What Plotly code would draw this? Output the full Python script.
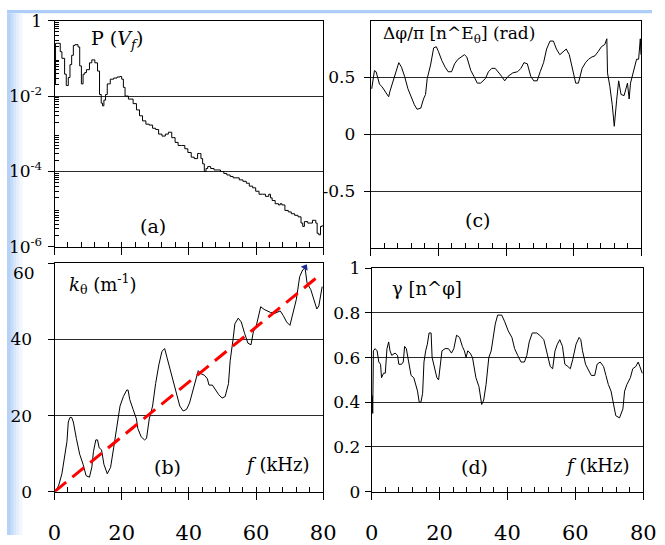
import plotly.graph_objects as go

W, H = 665, 545
SERIF = "DejaVu Serif"

# ---- (a) power spectrum P(V_f) ----
f_a = [0.0, 0.3, 1.0, 1.7, 2.2, 3.0, 3.5, 4.1, 4.6, 5.1, 5.6, 6.1, 7.0, 7.5, 8.0, 8.5, 9.0, 9.5,
       10.4, 11.1, 12.0, 12.8, 13.4, 13.9, 14.3, 14.7, 15.2, 15.7, 16.6, 17.6, 18.6, 19.5, 20.0,
       20.5, 21.0, 22.0, 23.4, 24.4, 25.3, 26.2, 27.2, 28.2, 29.2, 30.1, 31.0, 32.0, 33.0, 33.9,
       34.9, 35.9, 36.8, 37.8, 38.8, 39.7, 40.7, 41.6, 42.6, 43.1, 43.6, 44.1, 44.6, 45.1, 45.6,
       46.5, 47.5, 48.5, 49.4, 50.4, 51.3, 52.3, 53.2, 55.0, 56.1, 57.1, 58.0, 59.0, 59.9, 60.9,
       61.9, 62.8, 63.8, 64.3, 64.8, 65.7, 66.7, 67.2, 67.7, 68.6, 69.6, 70.5, 71.5, 72.5, 73.4,
       73.9, 74.4, 75.4, 76.8, 77.8, 78.2, 78.7, 79.2, 79.7]
p_a = [2.1e-2, 2.5e-1, 2.5e-1, 1.5e-1, 1.0e-1, 3.8e-2, 1.9e-2, 3.1e-2, 6.8e-2, 1.2e-1, 2.2e-1,
       2.3e-1, 2.0e-1, 6.3e-2, 2.1e-2, 3.8e-2, 4.2e-2, 5.0e-2, 7.6e-2, 9.1e-2, 7.6e-2, 4.6e-2,
       1.1e-2, 6.5e-3, 5.5e-3, 7.8e-3, 1.1e-2, 2.1e-2, 2.8e-2, 3.0e-2, 3.2e-2, 3.3e-2, 2.8e-2,
       1.7e-2, 1.0e-2, 8.3e-3, 6.3e-3, 4.3e-3, 3.0e-3, 2.2e-3, 1.8e-3, 1.7e-3, 1.4e-3, 1.3e-3,
       9.8e-4, 8.7e-4, 9.8e-4, 1.1e-3, 7.9e-4, 5.9e-4, 4.9e-4, 4.9e-4, 4.0e-4, 3.2e-4, 2.4e-4,
       2.2e-4, 3.0e-4, 3.0e-4, 2.2e-4, 1.6e-4, 1.0e-4, 1.2e-4, 1.35e-4, 1.2e-4, 1.1e-4, 1.1e-4,
       1.0e-4, 8.9e-5, 8.1e-5, 7.4e-5, 6.8e-5, 6.0e-5, 5.5e-5, 4.9e-5, 4.1e-5, 3.7e-5, 3.0e-5,
       2.5e-5, 2.5e-5, 2.2e-5, 2.5e-5, 2.0e-5, 1.7e-5, 1.4e-5, 1.3e-5, 1.4e-5, 1.3e-5, 9.3e-6,
       8.5e-6, 7.6e-6, 6.9e-6, 6.3e-6, 4.3e-6, 3.5e-6, 4.7e-6, 4.3e-6, 5.1e-6, 4.3e-6, 2.3e-6,
       2.1e-6, 3.5e-6, 3.8e-6]

# ---- (b) poloidal wavenumber k_theta ----
f_b = [0.3, 1.25, 2.2, 3.2, 3.7, 4.1, 4.6, 5.1, 5.6, 6.5, 7.5, 8.5, 9.4, 10.4, 11.1, 11.6, 12.3,
       12.8, 13.3, 14.0, 14.7, 15.7, 16.7, 17.6, 18.6, 19.5, 20.5, 21.5, 21.9, 22.4, 23.4, 24.4,
       24.8, 25.8, 26.8, 27.4, 28.2, 29.2, 30.1, 31.1, 32.0, 32.8, 33.5, 34.5, 35.4, 36.4, 37.3,
       38.3, 39.3, 40.2, 41.2, 42.2, 42.8, 43.6, 44.6, 45.5, 46.0, 47.0, 47.9, 48.9, 49.9, 50.8,
       51.8, 52.3, 53.2, 53.7, 54.7, 55.6, 56.6, 57.6, 58.5, 59.2, 60.0, 60.7, 61.4, 62.4, 63.3,
       64.3, 65.7, 67.2, 68.1, 69.1, 70.1, 71.0, 72.0, 73.0, 73.9, 74.6, 75.2, 76.3, 77.3, 78.1,
       78.7, 79.7]
k_b = [0.0, 1.7, 4.7, 9.8, 13.2, 18.3, 19.5, 19.5, 18.3, 14.0, 9.8, 7.2, 4.2, 3.8, 6.4, 10.6,
       13.6, 13.6, 11.5, 11.0, 7.2, 4.7, 6.4, 11.5, 17.4, 22.5, 25.0, 26.7, 26.7, 24.2, 21.6,
       19.1, 16.6, 14.4, 13.6, 14.0, 19.1, 22.5, 28.4, 33.5, 36.9, 37.6, 35.2, 31.8, 28.4, 25.0,
       22.5, 21.2, 21.6, 23.3, 26.7, 30.1, 31.8, 31.0, 30.6, 29.7, 28.0, 28.0, 26.7, 25.5, 24.6,
       25.0, 28.4, 34.4, 40.3, 44.1, 45.6, 44.6, 41.6, 39.0, 38.6, 42.0, 43.3, 45.8, 48.6, 47.9,
       47.5, 47.1, 46.9, 47.5, 46.3, 44.6, 43.7, 46.7, 50.5, 56.5, 58.3, 58.8, 54.8, 53.1, 50.5,
       48.0, 48.8, 53.9]
# linear fit k = 0.72 f
f_fit = [0.0, 78.0]
k_fit = [0.0, 56.2]
# small arrow heads left on the panel
f_blue, k_blue = [74.6], [59.0]
f_blk, k_blk = [80.6], [54.3]

# ---- (c) cross phase dphi/pi ----
f_c = [0.3, 0.7, 1.1, 1.6, 2.1, 2.6, 3.3, 4.3, 5.3, 5.7, 6.7, 7.6, 8.3, 9.1, 10.0, 11.0, 11.9,
       12.9, 13.7, 14.8, 15.6, 16.2, 16.7, 17.7, 18.6, 19.4, 20.0, 21.0, 22.0, 22.9, 23.9, 24.8,
       25.8, 26.7, 27.7, 28.4, 29.6, 30.5, 31.5, 32.5, 33.9, 34.8, 35.8, 36.8, 37.7, 38.7, 39.6,
       40.6, 42.0, 43.4, 44.4, 45.3, 46.3, 47.3, 48.2, 49.2, 50.1, 51.1, 52.0, 53.0, 54.0, 54.9,
       55.9, 56.8, 57.8, 58.7, 59.7, 60.6, 61.4, 62.5, 63.5, 64.4, 65.4, 66.3, 67.3, 68.2, 69.2,
       69.8, 70.0, 70.7, 71.4, 72.0, 72.7, 73.3, 74.0, 74.9, 75.9, 76.4, 76.8, 77.8, 78.6, 79.2,
       79.7, 79.9]
ph_c = [0.40, 0.49, 0.56, 0.55, 0.49, 0.44, 0.42, 0.38, 0.33, 0.38, 0.47, 0.56, 0.63, 0.59,
        0.51, 0.40, 0.33, 0.26, 0.22, 0.23, 0.31, 0.35, 0.49, 0.61, 0.76, 0.77, 0.73, 0.65, 0.59,
        0.55, 0.55, 0.62, 0.66, 0.68, 0.70, 0.68, 0.56, 0.51, 0.45, 0.45, 0.49, 0.55, 0.58, 0.58,
        0.55, 0.51, 0.47, 0.51, 0.54, 0.55, 0.58, 0.63, 0.62, 0.51, 0.47, 0.47, 0.55, 0.63, 0.75,
        0.82, 0.82, 0.75, 0.70, 0.72, 0.75, 0.70, 0.58, 0.45, 0.45, 0.58, 0.63, 0.66, 0.68, 0.69,
        0.73, 0.77, 0.79, 0.84, 0.54, 0.42, 0.26, 0.07, 0.30, 0.47, 0.35, 0.34, 0.45, 0.31, 0.45,
        0.58, 0.66, 0.66, 0.84, 0.70]

# ---- (d) coherence gamma ----
f_d = [0.2, 0.3, 0.5, 1.0, 1.6, 2.1, 2.6, 2.9, 3.5, 4.0, 4.5, 5.0, 5.4, 5.9, 6.9, 7.6, 8.0, 8.8,
       9.3, 9.7, 10.2, 10.7, 11.1, 11.6, 12.4, 13.0, 13.5, 14.0, 14.5, 15.0, 15.4, 15.9, 16.4,
       16.9, 17.5, 17.8, 18.5, 19.2, 19.7, 20.2, 20.7, 21.6, 22.6, 23.5, 24.2, 25.0, 25.9, 26.7,
       27.3, 27.8, 28.3, 29.0, 29.7, 30.7, 31.6, 32.4, 33.0, 33.7, 34.5, 35.2, 35.9, 36.4, 37.1,
       38.3, 39.2, 40.2, 41.3, 42.1, 43.0, 44.0, 45.0, 45.7, 46.4, 47.3, 48.6, 49.5, 50.7, 51.6,
       52.6, 53.3, 54.0, 54.7, 55.4, 56.2, 56.9, 57.8, 58.5, 59.2, 60.2, 61.1, 61.6, 62.1, 63.0,
       64.0, 64.7, 65.7, 66.4, 67.3, 68.3, 69.0, 69.7, 70.5, 71.1, 71.9, 73.0, 74.0, 74.5, 75.2,
       76.2, 76.9, 77.8, 78.5, 79.0, 79.7]
g_d = [0.43, 0.35, 0.63, 0.64, 0.63, 0.58, 0.57, 0.51, 0.53, 0.53, 0.64, 0.67, 0.63, 0.61,
       0.62, 0.61, 0.57, 0.57, 0.58, 0.65, 0.64, 0.60, 0.56, 0.52, 0.51, 0.48, 0.45, 0.40, 0.40,
       0.44, 0.58, 0.63, 0.66, 0.71, 0.71, 0.60, 0.55, 0.51, 0.50, 0.57, 0.63, 0.64, 0.64, 0.62,
       0.64, 0.70, 0.69, 0.65, 0.63, 0.60, 0.63, 0.62, 0.60, 0.51, 0.47, 0.39, 0.41, 0.48, 0.60,
       0.63, 0.70, 0.75, 0.79, 0.79, 0.76, 0.72, 0.69, 0.64, 0.61, 0.58, 0.58, 0.61, 0.67, 0.71,
       0.71, 0.70, 0.68, 0.62, 0.56, 0.55, 0.63, 0.66, 0.68, 0.65, 0.57, 0.56, 0.55, 0.59, 0.66,
       0.69, 0.68, 0.63, 0.57, 0.54, 0.52, 0.52, 0.57, 0.58, 0.56, 0.52, 0.48, 0.45, 0.40, 0.34,
       0.33, 0.37, 0.45, 0.48, 0.51, 0.55, 0.56, 0.58, 0.56, 0.53]

# tick labels
a_tickvals = [1e-6, 1e-4, 1e-2, 1]
a_ticktext = ["10<sup>-6</sup>", "10<sup>-4</sup>", "10<sup>-2</sup>", "1"]
b_tickvals = [0, 20, 40, 60]
b_ticktext = ["0", "20", "40", ""]   # the top label is set a little lower, below
c_tickvals = [-0.5, 0, 0.5]
c_ticktext = ["-0.5", "0", "0.5"]
f_ticks = [0, 20, 40, 60, 80]


def px_x(x):
    return x / W


def px_y(y):
    return 1 - y / H


LINE = dict(color="black", width=1)

fig = go.Figure()
fig.add_trace(go.Scatter(x=f_a, y=p_a, mode="lines", line=dict(color="black", width=1, shape="hv"),
                         xaxis="x", yaxis="y"))
fig.add_trace(go.Scatter(x=f_c, y=ph_c, mode="lines", line=LINE, xaxis="x2", yaxis="y2"))
fig.add_trace(go.Scatter(x=f_b, y=k_b, mode="lines", line=LINE, xaxis="x3", yaxis="y3"))
fig.add_trace(go.Scatter(x=f_fit, y=k_fit, mode="lines",
                         line=dict(color="#ff0000", width=3, dash="15px,8px"),
                         xaxis="x3", yaxis="y3"))
fig.add_trace(go.Scatter(x=f_blue, y=k_blue, mode="markers", cliponaxis=False,
                         marker=dict(symbol="triangle-up", size=7, color="#1a2a9a", angle=30),
                         xaxis="x3", yaxis="y3"))
fig.add_trace(go.Scatter(x=f_blk, y=k_blk, mode="markers", cliponaxis=False,
                         marker=dict(symbol="triangle-up", size=5, color="black", angle=60),
                         xaxis="x3", yaxis="y3"))
fig.add_trace(go.Scatter(x=f_d, y=g_d, mode="lines", line=LINE, xaxis="x4", yaxis="y4"))

# panel frames in pixels: (left, right, top, bottom)
frames = {
    "a": (49, 326, 11, 246),
    "c": (375, 654, 11, 247),
    "b": (49, 326, 263, 500),
    "d": (376, 656, 268, 500),
}

tickfont_x = dict(family=SERIF, size=21, color="black")
tickfont_y = dict(family=SERIF, size=17, color="black")


def xaxis(frame, anchor, labels):
    l, r, t, b = frame
    return dict(domain=[px_x(l), px_x(r)], anchor=anchor, range=[0, 80],
                tickmode="array", tickvals=f_ticks, showticklabels=labels,
                ticks="outside", ticklen=7, tickcolor="black", tickwidth=1,
                minor=dict(ticks="inside", dtick=4, tick0=0, ticklen=5, tickcolor="black",
                           showgrid=False),
                showline=True, linecolor="black", linewidth=1.2, mirror=True,
                showgrid=False, zeroline=False, tickfont=tickfont_x,
                ticklabelstandoff=15)


def yaxis(frame, anchor, **kw):
    l, r, t, b = frame
    d = dict(domain=[px_y(b), px_y(t)], anchor=anchor,
             ticks="outside", ticklen=6, tickcolor="black", tickwidth=1,
             showline=True, linecolor="black", linewidth=1, mirror=True,
             showgrid=True, gridcolor="#2a2a2a", gridwidth=1, zeroline=False,
             tickfont=tickfont_y)
    d.update(kw)
    return d


minor_log = [m * 10 ** e for e in range(-6, 0) for m in range(2, 10)]

fig.update_layout(
    width=W, height=H, autosize=False,
    margin=dict(l=0, r=0, t=0, b=0),
    paper_bgcolor="white", plot_bgcolor="white",
    showlegend=False,
    font=dict(family=SERIF, color="black"),
    xaxis=xaxis(frames["a"], "y", False),
    yaxis=yaxis(frames["a"], "x", type="log", range=[-6, 0], tickmode="array",
                tickvals=a_tickvals, ticktext=a_ticktext, ticklabelstandoff=2,
                minor=dict(ticks="inside", tickvals=minor_log, ticklen=4, tickcolor="black",
                           showgrid=False)),
    xaxis2=xaxis(frames["c"], "y2", False),
    yaxis2=yaxis(frames["c"], "x2", range=[-1, 1], tickmode="array",
                 tickvals=c_tickvals, ticktext=c_ticktext, ticklabelstandoff=5),
    xaxis3=xaxis(frames["b"], "y3", True),
    yaxis3=yaxis(frames["b"], "x3", range=[0, 60], tickmode="array",
                 tickvals=b_tickvals, ticktext=b_ticktext, ticklabelstandoff=12),
    xaxis4=xaxis(frames["d"], "y4", True),
    yaxis4=yaxis(frames["d"], "x4", range=[0, 1], tickmode="array",
                 tickvals=[0, 0.2, 0.4, 0.6, 0.8, 1], ticklabelstandoff=1),
)

# light-blue slide border along the top and left edges
shapes = [dict(type="rect", xref="paper", yref="paper", x0=0, x1=1, y0=px_y(3.5), y1=1,
               line=dict(width=0), fillcolor="#aecdf8", layer="below")]
for x0, x1, col in [(0, 4, "#b6d2f9"), (4, 7, "#c6dcfa"), (7, 10, "#d6e6fb"),
                    (10, 13, "#e5effc"), (13, 16, "#f2f7fe")]:
    shapes.append(dict(type="rect", xref="paper", yref="paper", x0=px_x(x0), x1=px_x(x1),
                       y0=0, y1=px_y(3.5), line=dict(width=0), fillcolor=col, layer="below"))
fig.update_layout(shapes=shapes)


def label(text, x, y, size=18, xanchor="center"):
    fig.add_annotation(text=text, x=px_x(x), y=px_y(y), xref="paper", yref="paper",
                       xanchor=xanchor, yanchor="middle", showarrow=False,
                       font=dict(family=SERIF, size=size, color="black"))


label("60", 31, 273, size=17, xanchor="right")
label("P (<i>V</i><sub><i>f</i></sub>)", 85, 31, size=19, xanchor="left")
label("(a)", 151, 224, size=19)
label("Δφ/π [n^E<sub>θ</sub>] (rad)", 386, 25, size=17, xanchor="left")
label("(c)", 485, 218, size=19)
label("<i>k</i><sub>θ</sub> (m<sup>-1</sup>)", 62, 284, size=18, xanchor="left")
label("(b)", 165, 474, size=19)
label("<i>f</i> (kHz)", 243, 472, size=18, xanchor="left")
label("γ [n^φ]", 395, 289, size=18, xanchor="left")
label("(d)", 482, 474, size=19)
label("<i>f</i> (kHz)", 573, 473, size=18, xanchor="left")

fig.write_html("out.html")
